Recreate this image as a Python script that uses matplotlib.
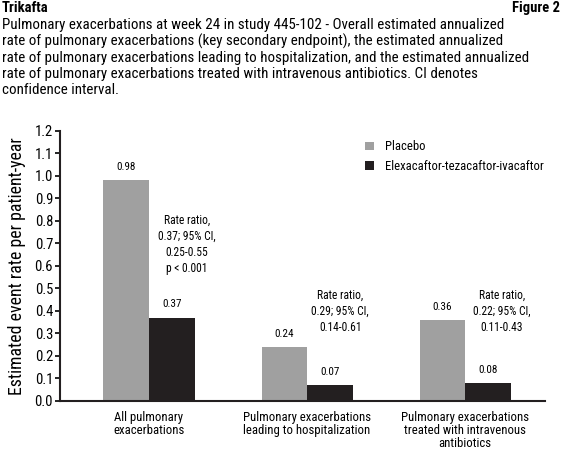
import matplotlib
matplotlib.use('Agg')
import matplotlib.pyplot as plt
import numpy as np

# narrow grotesque font, DejaVu as fallback
plt.rcParams['font.family'] = ['Roboto Condensed', 'Liberation Sans', 'DejaVu Sans']

# data
categories = ['All pulmonary\nexacerbations',
              'Pulmonary exacerbations\nleading to hospitalization',
              'Pulmonary exacerbations\ntreated with intravenous\nantibiotics']
placebo = [0.98, 0.24, 0.36]
eti = [0.37, 0.07, 0.08]
ratio_texts = ['Rate ratio,\n0.37; 95% CI,\n0.25-0.55\np < 0.001',
               'Rate ratio,\n0.29; 95% CI,\n0.14-0.61',
               'Rate ratio,\n0.22; 95% CI,\n0.11-0.43']
ratio_y = [0.83, 0.497, 0.497]
ratio_dx = [0.24, 0.21, 0.234]
yticks = np.arange(0, 1.21, 0.1)

caption = ('Pulmonary exacerbations at week 24 in study 445-102 - Overall estimated annualized\n'
           'rate of pulmonary exacerbations (key secondary endpoint), the estimated annualized\n'
           'rate of pulmonary exacerbations leading to hospitalization, and the estimated annualized\n'
           'rate of pulmonary exacerbations treated with intravenous antibiotics. CI denotes\n'
           'confidence interval.')

fig = plt.figure(figsize=(5.62, 4.66), dpi=100)
ax = fig.add_axes([0.1068, 0.1395, 0.863, 0.5794])

x = np.arange(len(categories))
w = 0.288
ax.bar(x - w / 2, placebo, w, color='#a0a0a0', label='Placebo')
ax.bar(x + w / 2, eti, w, color='#231f20', label='Elexacaftor-tezacaftor-ivacaftor')

for i in range(len(x)):
    ax.annotate(f'{placebo[i]:.2f}', (x[i] - w / 2, placebo[i]), xytext=(0, 6),
                textcoords='offset points', ha='center', va='bottom', fontsize=8)
    ax.annotate(f'{eti[i]:.2f}', (x[i] + w / 2, eti[i]), xytext=(0, 6),
                textcoords='offset points', ha='center', va='bottom', fontsize=8)
    ax.text(x[i] + ratio_dx[i], ratio_y[i], ratio_texts[i], ha='center', va='top',
            fontsize=8.3, linespacing=1.3)

ax.set_xlim(-0.563, 2.506)
ax.set_ylim(0, 1.2)
ax.set_yticks(yticks)
ax.set_yticklabels([f'{t:.1f}' for t in yticks], fontsize=10.5)
ax.set_xticks(x)
ax.set_xticklabels(categories, fontsize=9.2, linespacing=1.0)
ax.tick_params(axis='x', length=0, pad=7)
ax.tick_params(axis='y', length=3.5, width=1.2, pad=1.5)
ax.set_ylabel('Estimated event rate per patient-year', fontsize=12.8, labelpad=6)

for s in ['top', 'right']:
    ax.spines[s].set_visible(False)
for s in ['left', 'bottom']:
    ax.spines[s].set_linewidth(1.5)
    ax.spines[s].set_color('#231f20')

ax.legend(loc='upper left', bbox_to_anchor=(0.629, 0.965), frameon=False, fontsize=9.1,
          borderpad=0, borderaxespad=0, handlelength=0.7, handleheight=0.7,
          handletextpad=0.9, labelspacing=0.5)

fig.text(0.003, 0.998, 'Trikafta', fontsize=10.5, fontweight='bold', va='top', ha='left')
fig.text(0.997, 0.998, 'Figure 2', fontsize=10.5, fontweight='bold', va='top', ha='right')
fig.text(0.003, 0.962, caption, fontsize=10.8, va='top', ha='left', linespacing=1.17)

fig.savefig('out.png', dpi=100)
